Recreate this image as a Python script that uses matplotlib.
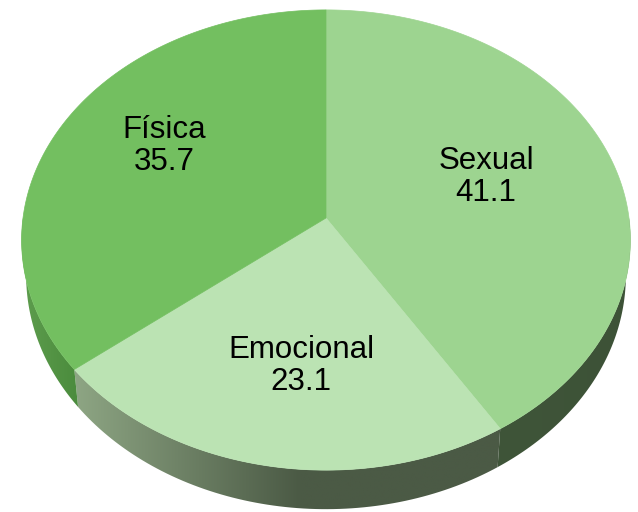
import numpy as np
import matplotlib.pyplot as plt
from matplotlib.patches import Polygon
from matplotlib.colors import to_rgb

labels = ["Sexual", "Emocional", "Física"]
values = [41.1, 23.1, 35.7]
top_colors = ["#9dd490", "#bbe3b3", "#73bf60"]
# side wall colours: left end, right end of a horizontal gradient
wall_colors = [("#3f5539", "#3d5237"), ("#8ea684", "#4b5a45"), ("#5e9d4e", "#4a8b3c")]
label_pos = [(486, 177), (301, 366), (164, 146)]

# perspective of the tilted disc (pixel units)
cx, cy = 326, 218
a, b, k = 303, 228, 0.0957
depth = 35.3
shrink = 0.985  # bottom rim is a bit narrower (camera above)


def proj(theta, dz=0.0, sx=1.0):
    u, v = np.cos(theta), np.sin(theta)
    s = 1 + k * v
    return cx + sx * a * u / s, cy - b * v / s + dz / s


fig = plt.figure(figsize=(6.38, 5.12), dpi=100)
ax = fig.add_axes([0, 0, 1, 1])
ax.axis("off")

total = sum(values)
angles = 90 - 360 * np.concatenate([[0], np.cumsum(values)]) / total

# side walls (front half only)
for i in range(len(values)):
    t0, t1 = angles[i], angles[i + 1]  # t0 > t1, going clockwise
    lo, hi = max(t1, -180), min(t0, 0)
    if lo >= hi:
        continue
    th = np.radians(np.linspace(hi, lo, 80))
    xt, yt = proj(th)
    xb, yb = proj(th[::-1], depth, shrink)
    pts = np.column_stack([np.concatenate([xt, xb]), np.concatenate([yt, yb])])
    poly = Polygon(pts, closed=True, facecolor="none", edgecolor="none")
    ax.add_patch(poly)
    x0, x1 = pts[:, 0].min(), pts[:, 0].max()
    y0, y1 = pts[:, 1].min(), pts[:, 1].max()
    c0, c1 = np.array(to_rgb(wall_colors[i][0])), np.array(to_rgb(wall_colors[i][1]))
    if labels[i] == "Emocional":
        f = np.clip((np.linspace(x0, x1, 200) - x0) / (300 - x0), 0, 1)
    else:
        f = np.linspace(0, 1, 200)
    grad = c0[None, :] * (1 - f[:, None]) + c1[None, :] * f[:, None]
    im = ax.imshow(grad[None, :, :], extent=(x0 - 1, x1 + 1, y1 + 1, y0 - 1),
                   aspect="auto", interpolation="bilinear", zorder=1)
    im.set_clip_path(poly)

# top faces
for i in range(len(values)):
    th = np.radians(np.linspace(angles[i], angles[i + 1], 150))
    xs, ys = proj(th)
    pts = np.column_stack([np.concatenate([[cx], xs]), np.concatenate([[cy], ys])])
    ax.add_patch(Polygon(pts, closed=True, facecolor=top_colors[i],
                         edgecolor=top_colors[i], lw=0.5, zorder=2))

for lab, val, (x, y) in zip(labels, values, label_pos):
    ax.text(x, y, f"{lab}\n{val}", ha="center", va="center", fontsize=22.5,
            family="Liberation Sans", linespacing=1.12, zorder=3)

ax.set_xlim(0, 638)
ax.set_ylim(512, 0)
fig.savefig("out.png", dpi=100)
